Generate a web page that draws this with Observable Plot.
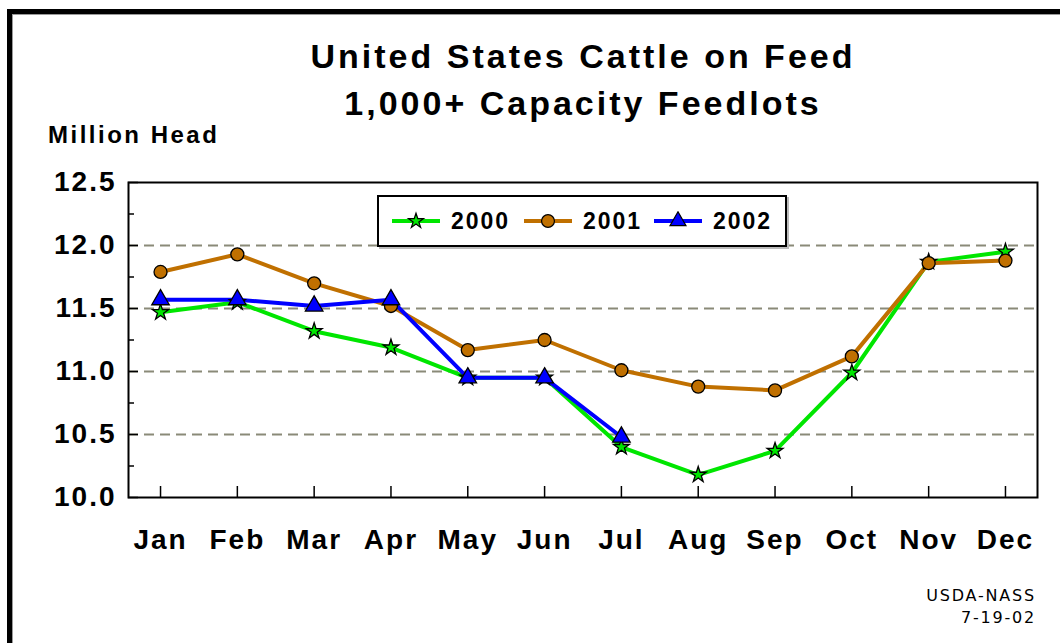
<!DOCTYPE html>
<html>
<head>
<meta charset="utf-8">
<script src="https://cdn.jsdelivr.net/npm/d3@7"></script>
<script src="https://cdn.jsdelivr.net/npm/@observablehq/plot@0.6"></script>
<style>
  html, body { margin: 0; padding: 0; background: #fff; }
  #wrap { position: relative; width: 1060px; height: 643px; overflow: hidden; font-family: "Liberation Sans", Arial, sans-serif; }
  #border { position: absolute; left: 7px; top: 9px; width: 1200px; height: 800px; border-top: 5px solid #000; border-left: 5px solid #000; box-shadow: inset 1px 1px 0 #9a9a9a; }
  .title { position: absolute; left: 0; width: 1166px; text-align: center; font-weight: bold; font-size: 34px; letter-spacing: 3px; color: #000; white-space: nowrap; }
  #ylab { position: absolute; left: 48px; top: 121px; font-weight: bold; font-size: 24px; letter-spacing: 2.5px; white-space: nowrap; }
  #chart { position: absolute; left: 0; top: 160px; }
  #chart svg text { letter-spacing: 2px; }
  #legend { position: absolute; left: 377px; top: 195px; width: 406px; height: 48px; border: 2px solid #000; background: #fff; box-shadow: 2px 2px 0 #bbb; }
  .lg { position: absolute; top: 0; height: 48px; display: flex; align-items: center; font-weight: bold; font-size: 23px; letter-spacing: 2px; }
  .lg svg { margin-right: 11px; }
  #src { position: absolute; right: 24px; top: 585px; text-align: right; font-size: 16px; letter-spacing: 1.8px; line-height: 22px; font-family: "DejaVu Sans", sans-serif; }
</style>
</head>
<body>
<div id="wrap">
  <div id="border"></div>
  <div class="title" style="top:37px">United States Cattle on Feed</div>
  <div class="title" style="top:84px">1,000+ Capacity Feedlots</div>
  <div id="ylab">Million Head</div>
  <div id="chart"></div>
  <div id="legend"></div>
  <div id="src">USDA-NASS<br>7-19-02</div>
</div>
<script>
const months = ["Jan","Feb","Mar","Apr","May","Jun","Jul","Aug","Sep","Oct","Nov","Dec"];
const v2000 = [11.47, 11.55, 11.32, 11.19, 10.95, 10.95, 10.40, 10.18, 10.37, 10.99, 11.87, 11.95];
const v2001 = [11.79, 11.93, 11.70, 11.52, 11.17, 11.25, 11.01, 10.88, 10.85, 11.12, 11.86, 11.88];
const v2002 = [11.57, 11.57, 11.52, 11.57, 10.95, 10.95, 10.48];
const yTicks = [10.0, 10.5, 11.0, 11.5, 12.0, 12.5];
const gridLines = [10.5, 11.0, 11.5, 12.0];
const minorTicks = [10.25, 10.75, 11.25, 11.75, 12.25];
const seriesNames = ["2000", "2001", "2002"];
const seriesColors = ["#00e600", "#c07000", "#0000ff"];
const seriesSymbols = ["star", "circle", "triangle"];

const seriesValues = [v2000, v2001, v2002];
const series = seriesNames.map((name, i) => ({
  name, color: seriesColors[i], symbol: seriesSymbols[i],
  data: seriesValues[i].map((v, j) => ({month: months[j], value: v}))
}));

const W = 1060, H = 483, mL = 128, mR = 23, mT = 22, mB = 146;
const plotW = W - mL - mR, plotH = H - mT - mB;

const marks = [
  Plot.ruleY(gridLines, {stroke: "#8a8a78", strokeWidth: 2, strokeDasharray: "10,6"}),
  Plot.ruleY(yTicks, {stroke: "#000", strokeWidth: 1.5, insetRight: plotW - 10}),
  Plot.ruleY(minorTicks, {stroke: "#000", strokeWidth: 1.5, insetRight: plotW - 6}),
  Plot.ruleX(months, {stroke: "#000", strokeWidth: 1.5, insetTop: plotH - 11}),
  Plot.frame({stroke: "#000", strokeWidth: 2}),
  Plot.axisY(yTicks, {tickSize: 0, tickPadding: 12, fontSize: 28, fontWeight: "bold", tickFormat: d => d.toFixed(1), label: null}),
  Plot.axisX(months, {tickSize: 0, tickPadding: 32, fontSize: 28, fontWeight: "bold", label: null})
];
for (const s of series) {
  marks.push(Plot.line(s.data, {x: "month", y: "value", stroke: s.color, strokeWidth: 4}));
}
for (const s of series) {
  const r = s.symbol === "circle" ? 6.5 : s.symbol === "triangle" ? 6.5 : 5;
  marks.push(Plot.dot(s.data, {x: "month", y: "value", symbol: () => s.symbol, r, fill: s.color, stroke: "#000", strokeWidth: 1.3}));
}

const chart = Plot.plot({
  width: W, height: H,
  marginLeft: mL, marginRight: mR, marginTop: mT, marginBottom: mB,
  style: {fontFamily: "'Liberation Sans', Arial, sans-serif", color: "#000", background: "transparent", overflow: "visible"},
  x: {type: "point", domain: months, padding: 0.417, round: false, axis: null},
  y: {domain: [10, 12.5], axis: null},
  symbol: {type: "identity"},
  marks
});
document.getElementById("chart").appendChild(chart);

// legend
const legend = document.getElementById("legend");
const lgLeft = [13, 145, 275];
series.forEach((s, i) => {
  const el = document.createElement("div");
  el.className = "lg";
  el.style.left = lgLeft[i] + "px";
  const sym = d3.symbol().type(s.symbol === "star" ? d3.symbolStar : s.symbol === "circle" ? d3.symbolCircle : d3.symbolTriangle)
    .size(s.symbol === "star" ? 70 : s.symbol === "circle" ? 130 : 110)();
  el.innerHTML = `<svg width="48" height="20"><line x1="0" x2="48" y1="10" y2="10" stroke="${s.color}" stroke-width="4"/><path d="${sym}" transform="translate(24,10)" fill="${s.color}" stroke="#000" stroke-width="1.2"/></svg><span>${s.name}</span>`;
  legend.appendChild(el);
});
</script>
</body>
</html>
